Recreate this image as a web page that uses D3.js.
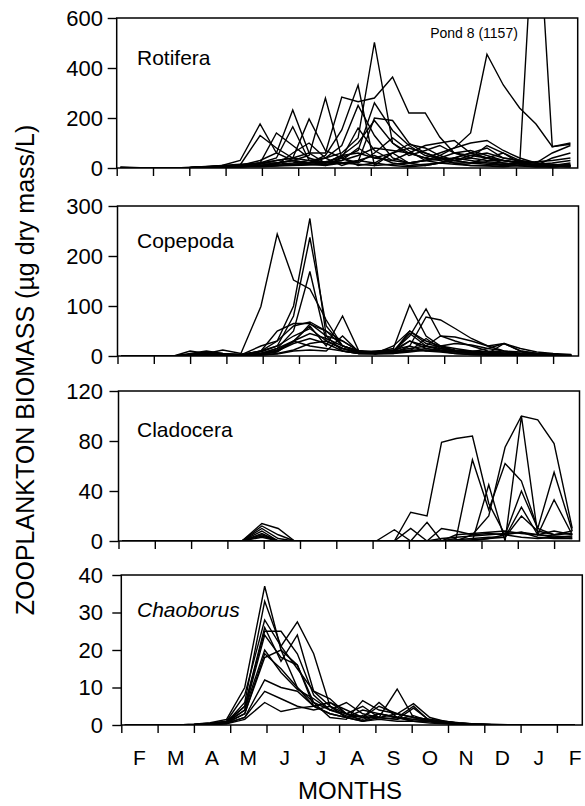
<!DOCTYPE html>
<html>
<head>
<meta charset="utf-8">
<script src="https://cdn.jsdelivr.net/npm/d3@7"></script>
<style>
  html, body { margin: 0; padding: 0; background: #fff; }
  svg { display: block; }
  text { font-family: "Liberation Sans", Arial, Helvetica, sans-serif; fill: #000; }
</style>
</head>
<body>
<svg id="chart" width="585" height="806"></svg>
<script>
// ---- DATA ----
// sampling dates, in months after 1 February
const dates = [0.1,0.65,1.1,1.55,2.0,2.45,2.9,3.4,3.95,4.4,4.85,5.3,5.75,6.2,6.65,7.1,7.6,8.05,8.5,8.9,9.3,9.75,10.2,10.65,11.1,11.55,12.0,12.5];
const monthLabels = ["F","M","A","M","J","J","A","S","O","N","D","J","F"];

const rotiferaTicks = [0,200,400,600];
const copepodaTicks = [0,100,200,300];
const cladoceraTicks = [0,40,80,120];
const chaoborusTicks = [0,10,20,30,40];

// Rotifera biomass (ug dry mass/L), one array per pond
const rotifera = [
  [4,1,0,0,2,6,10, 30,176,60,30,20,40,10, 30,20,10,5,10,20,15, 10,8,5,10,15,20,30],
  [2,0,0,0,1,4,8, 12,130,80,40,30,20,50, 60,40,30,20,30,40,60, 70,50,30,20,10,8,10],
  [0,0,0,0,1,3,6, 10,20,140,90,40,20,30, 80,40,60,20,30,50,80, 100,110,70,40,20,10,15],
  [1,0,0,0,2,4,8, 10,30,60,232,60,20,50, 100,190,100,50,70,90,60, 40,30,30,20,10,5,5],
  [0,0,0,0,1,3,5, 8,20,40,165,30,10,40, 160,70,30,60,90,100,110, 60,40,20,10,5,5,10],
  [0,0,0,0,1,2,5, 10,15,30,40,196,70,40, 20,60,120,70,30,20,40, 60,80,40,30,20,10,20],
  [0,0,0,0,1,3,6, 10,20,20,30,50,280,40, 10,20,60,95,80,50,30, 20,40,60,30,10,5,10],
  [0,0,0,0,2,5,10, 15,20,30,40,60,60,284, 265,280,364,220,220,124,60, 50,40,30,25,20,15,10],
  [0,0,0,0,1,3,5, 8,10,20,30,20,50,152, 332,10,60,80,60,40,30, 20,15,10,8,5,5,10],
  [0,0,0,0,1,2,4, 6,10,15,20,30,40,60, 120,503,100,60,40,30,20, 20,25,20,15,10,8,5],
  [0,0,0,0,1,2,4, 6,8,10,15,20,25,40, 70,261,150,90,50,40,30, 40,90,60,20,10,40,60],
  [0,0,0,0,1,2,4, 6,8,10,12,15,20,30, 50,80,70,60,40,60,80, 140,455,332,240,176,85,100],
  [0,0,0,0,1,2,3, 5,8,10,15,20,25,20, 15,10,15,20,30,35,40, 30,20,15,10,1157,85,95],
  [0,0,0,0,1,2,4, 6,10,20,30,15,10,20, 30,50,20,10,15,20,30, 50,60,40,30,20,60,90],
  [0,0,0,0,1,2,3, 5,5,8,10,12,15,20, 25,200,190,100,60,40,20, 10,10,15,20,25,30,40],
  [0,0,0,0,1,2,3, 5,8,12,60,100,40,90, 250,130,40,20,10,20,40, 60,40,30,20,15,10,5]
];

const copepoda = [
  [0,0,0,0,10,5,12, 5,99,244,152,134,72,20, 10,5,8,10,15,10,5, 3,2,1,1,1,1,0],
  [0,0,0,0,2,8,3, 2,10,30,100,275,40,10, 5,5,8,12,10,8,5, 3,2,1,1,1,0,0],
  [0,0,0,0,3,6,2, 3,8,20,80,237,60,20, 10,5,10,15,20,12,8, 5,3,2,1,1,1,0],
  [0,0,0,0,5,10,5, 3,5,15,50,169,30,15, 8,5,20,50,30,20,10, 5,3,2,2,1,1,0],
  [0,0,0,0,2,4,3, 2,5,10,30,60,20,80, 10,8,12,30,20,15,10, 8,5,3,2,1,1,1],
  [0,0,0,0,3,8,5, 3,10,50,65,65,40,30, 10,8,15,102,40,20,15, 10,8,5,3,2,1,1],
  [0,0,0,0,2,5,3, 2,20,30,60,68,50,20, 10,8,10,40,94,40,30, 20,10,8,5,3,2,1],
  [0,0,0,0,1,3,2, 2,10,20,40,55,30,15, 8,10,12,20,78,72,55, 35,20,10,5,3,2,1],
  [0,0,0,0,2,4,3, 2,5,15,30,45,35,20, 8,6,10,45,20,40,38, 30,20,25,15,8,5,3],
  [0,0,0,0,1,2,2, 1,3,10,25,35,25,10, 5,5,8,30,15,20,25, 22,15,10,8,5,3,2],
  [0,0,0,0,1,2,1, 1,2,5,12,25,30,15, 5,4,5,20,10,15,10, 8,15,25,10,5,3,2],
  [0,0,0,0,1,1,1, 1,2,4,10,12,10,40, 8,5,6,10,35,15,10, 8,5,5,5,4,3,1],
  [0,0,0,0,1,2,1, 1,3,8,30,20,15,10, 5,5,5,8,12,10,8, 6,5,25,10,5,3,2],
  [0,0,0,0,2,3,2, 1,4,12,28,64,50,30, 10,5,8,50,25,18,12, 10,8,6,4,3,2,1]
];

const cladocera = [
  [0,0,0,0,0,0,0, 0,14,10,0,0,0,0, 0,0,0,23,20,79,82, 84,30,5,3,2,3,4],
  [0,0,0,0,0,0,0, 0,12,5,0,0,0,0, 0,0,0,0,0,0,2, 65,25,62,48,10,5,8],
  [0,0,0,0,0,0,0, 0,10,2,0,0,0,0, 0,0,0,0,0,0,0, 5,20,75,100,97,78,10],
  [0,0,0,0,0,0,0, 0,8,0,0,0,0,0, 0,0,0,0,0,0,0, 0,45,0,100,5,3,2],
  [0,0,0,0,0,0,0, 0,5,0,0,0,0,0, 0,0,0,0,0,0,0, 0,2,5,40,10,55,8],
  [0,0,0,0,0,0,0, 0,6,0,0,0,0,0, 0,0,0,0,0,0,0, 1,2,3,27,5,33,5],
  [0,0,0,0,0,0,0, 0,4,0,0,0,0,0, 0,0,0,0,0,0,1, 2,3,3,20,8,5,6],
  [0,0,0,0,0,0,0, 0,0,0,0,0,0,0, 0,0,0,10,0,10,8, 5,6,5,7,5,4,3],
  [0,0,0,0,0,0,0, 0,0,0,0,0,0,0, 0,0,9,0,15,0,5, 6,7,8,6,5,8,5],
  [0,0,0,0,0,0,0, 0,3,0,0,0,0,0, 0,0,0,0,0,2,3, 4,5,6,7,3,2,2]
];

const chaoborus = [
  [0,0,0,0,0.2,0.6,1.5, 10,37,20,16,5,3,2, 4,3,2,1.5,1,0.8,0.5, 0.3,0.2,0.1,0,0,0,0],
  [0,0,0,0,0.2,0.5,1, 8,28,21,27.5,19,5,3, 2,6,2,1.5,1,0.6,0.4, 0.2,0.1,0,0,0,0,0],
  [0,0,0,0,0.1,0.4,1, 5,25,25,19,8,4,6, 3,2,9.6,2,1.5,1,0.5, 0.3,0.1,0,0,0,0,0],
  [0,0,0,0,0.1,0.3,0.8, 4,24,18,16,6,2,1.5, 6.5,4,3,5.7,2,1,0.6, 0.3,0.1,0,0,0,0,0],
  [0,0,0,0,0.1,0.3,0.6, 3,19,15,10,5,6,4, 2,5,3,2,1,0.8,0.5, 0.2,0.1,0,0,0,0,0],
  [0,0,0,0,0.1,0.2,0.5, 3,18,20,10,6,4,3, 5,2,1.5,4.5,1.2,0.8,0.4, 0.2,0,0,0,0,0,0],
  [0,0,0,0,0,0.2,0.5, 2,12,10,9,5,3,2, 2.5,1.5,2,1,1,0.5,0.3, 0.1,0,0,0,0,0,0],
  [0,0,0,0,0,0.2,0.4, 2,9,7,5,4,5,2, 1,2,1.5,2.5,1,0.5,0.2, 0,0,0,0,0,0,0],
  [0,0,0,0,0,0.1,0.3, 1.5,6,3.6,4.5,5,6,3, 1,1.5,1,1,0.5,0.3,0.1, 0,0,0,0,0,0,0],
  [0,0,0,0,0.1,0.3,0.7, 6,33,21,15,9,7,3, 2,2,3,2,1.5,1,0.5, 0.2,0.1,0,0,0,0,0],
  [0,0,0,0,0.1,0.2,0.6, 5,26,17,24,9,5,2, 1,3,2,5,1,0.6,0.3, 0.1,0,0,0,0,0,0],
  [0,0,0,0,0,0.2,0.5, 4,20,14,9.5,7,4,2.5, 1.5,3,2,1,0.8,0.5,0.2, 0.1,0,0,0,0,0,0]
];

// ---- LAYOUT ----
const svg = d3.select("#chart");
const W = 461, H = 150, xMax = 12.7;
const panels = [
  { name: "Rotifera",  data: rotifera,  ticks: rotiferaTicks,  left: 116.7, top: 18,  labelY: 65,  italic: false },
  { name: "Copepoda",  data: copepoda,  ticks: copepodaTicks,  left: 117.5, top: 206, labelY: 248, italic: false },
  { name: "Cladocera", data: cladocera, ticks: cladoceraTicks, left: 118.5, top: 391, labelY: 437, italic: false },
  { name: "Chaoborus", data: chaoborus, ticks: chaoborusTicks, left: 121.3, top: 575, labelY: 617, italic: true }
];

panels.forEach((p, pi) => {
  const x = d3.scaleLinear().domain([0, xMax]).range([p.left, p.left + W]);
  const y = d3.scaleLinear().domain([0, d3.max(p.ticks)]).range([p.top + H, p.top]);
  const g = svg.append("g");

  const clipId = "clip" + pi;
  svg.append("clipPath").attr("id", clipId)
    .append("rect").attr("x", p.left).attr("y", p.top).attr("width", W).attr("height", H);

  const line = d3.line().x((d, i) => x(dates[i])).y(d => y(d));
  g.append("g").attr("clip-path", `url(#${clipId})`)
    .selectAll("path").data(p.data).join("path")
    .attr("d", line)
    .attr("fill", "none").attr("stroke", "#000")
    .attr("stroke-width", 1.4).attr("stroke-linejoin", "miter");

  // y axis
  const yAxis = d3.axisLeft(y).tickValues(p.ticks).tickSize(9)
    .tickPadding(p.left - 9 - 103).tickFormat(d3.format("d"));
  const ya = g.append("g").attr("transform", `translate(${p.left},0)`).call(yAxis);
  ya.select(".domain").remove();
  ya.selectAll("line").attr("stroke", "#000").attr("stroke-width", 1.4);
  ya.selectAll("text").attr("font-size", 22).attr("fill", "#000")
    .attr("font-family", "Liberation Sans, Arial, sans-serif");

  // x axis ticks (month boundaries)
  const xAxis = d3.axisBottom(x).tickValues(d3.range(13)).tickSize(8).tickFormat("");
  const xa = g.append("g").attr("transform", `translate(0,${p.top + H})`).call(xAxis);
  xa.select(".domain").remove();
  xa.selectAll("line").attr("stroke", "#000").attr("stroke-width", 1.4);

  // frame
  g.append("rect").attr("x", p.left).attr("y", p.top).attr("width", W).attr("height", H)
    .attr("fill", "none").attr("stroke", "#000").attr("stroke-width", 1.5);

  // panel label
  g.append("text").attr("x", 137).attr("y", p.labelY)
    .attr("font-size", 21).attr("font-style", p.italic ? "italic" : "normal")
    .text(p.name);

  if (pi === 0) {
    g.append("text").attr("x", 474).attr("y", 38).attr("text-anchor", "middle")
      .attr("font-size", 14).text("Pond 8 (1157)");
  }

  if (pi === panels.length - 1) {
    g.selectAll(".mlab").data(monthLabels).join("text")
      .attr("x", (d, i) => x(i + 0.5)).attr("y", 765)
      .attr("text-anchor", "middle").attr("font-size", 21)
      .text(d => d);
  }
});

svg.append("text").attr("x", 350).attr("y", 799).attr("text-anchor", "middle")
  .attr("font-size", 24).text("MONTHS");

svg.append("text").attr("transform", "translate(34,370) rotate(-90)")
  .attr("text-anchor", "middle").attr("font-size", 25)
  .text("ZOOPLANKTON BIOMASS (\u00b5g dry mass/L)");
</script>
</body>
</html>
